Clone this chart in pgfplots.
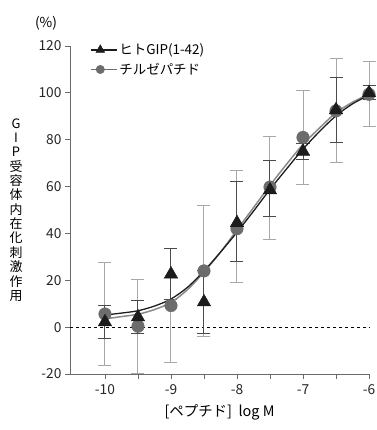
\documentclass[border=0pt]{standalone}
\usepackage{pgfplots}
\pgfplotsset{compat=1.18}
\usepackage{fontspec}
\setmainfont{Noto Sans CJK JP}
\definecolor{axisgray}{HTML}{6A6A6A}
\definecolor{trigray}{HTML}{1C1C1C}
\definecolor{circgray}{HTML}{6C6C6C}
\definecolor{ebdark}{HTML}{4A4A4A}
\definecolor{eblight}{HTML}{A8A8A8}
\definecolor{fitgray}{HTML}{8A8A8A}
\begin{document}
\begin{tikzpicture}
\useasboundingbox (-70bp,-56bp) rectangle (307bp,374bp);
\begin{axis}[
  at={(0,0)}, anchor=south west,
  scale only axis, width=299bp, height=328bp,
  xmin=-10.53, xmax=-6, ymin=-20, ymax=120,
  axis x line*=bottom, axis y line*=left,
  axis line style={axisgray, line width=0.8pt},
  xtick={-10,-9,-8,-7,-6},
  xticklabels={-10,-9,-8,-7,-6},
  minor xtick={-9.5,-8.5,-7.5,-6.5},
  ytick={-20,0,20,40,60,80,100,120},
  yticklabels={-20,0,20,40,60,80,100,120},
  tick align=outside,
  major tick length=5bp, minor tick length=5bp,
  tick style={axisgray, line width=0.8pt},
  every tick label/.append style={font=\fontsize{13.8}{15}\selectfont, text=black!85},
  xticklabel style={yshift=-2bp},
  clip=false,
  legend style={at={(0.06,1.02)}, anchor=north west, draw=none, fill=none,
    font=\fontsize{13.5}{15}\selectfont, row sep=3bp, inner xsep=2bp,
    legend cell align=left},
  legend image code/.code={%
    \path (0bp,0bp) -- (26bp,0bp);
    \draw[#1, mark=none] (0bp,0bp) -- (19bp,0bp);
    \draw[#1] plot coordinates {(9.5bp,0bp)};},
]
\addlegendimage{trigray, line width=1.3pt, mark=triangle*, mark size=5bp, mark options={fill=trigray, draw=trigray, line width=0.5pt}}
\addlegendentry{ヒトGIP(1-42)}
\addlegendimage{circgray, line width=1.3pt, mark=*, mark size=4.2bp, mark options={fill=circgray, draw=circgray, line width=0.5pt}}
\addlegendentry{チルゼパチド}

% zero line
\addplot[black, dashed, line width=0.6pt, forget plot] coordinates {(-10.53,0) (-6,0)};

% error bars: circles (light)
\addplot[draw=none, mark=none, forget plot,
  error bars/.cd, y dir=both, y explicit,
  error bar style={eblight, line width=1pt},
  error mark options={rotate=90, eblight, mark size=6.5bp, line width=1pt}]
  coordinates {
  (-10,5.6) +- (0,22)
  (-9.5,0.4) +- (0,20)
  (-9,9.2) +- (0,24.5)
  (-8.5,24) +- (0,28)
  (-8,43) +- (0,24)
  (-7.5,59.5) +- (0,22)
  (-7,81) +- (0,20)
  (-6.5,92.3) +- (0,22.2)
  (-6,99.4) +- (0,13.9)
  };
% error bars: triangles (dark)
\addplot[draw=none, mark=none, forget plot,
  error bars/.cd, y dir=both, y explicit,
  error bar style={ebdark, line width=1pt},
  error mark options={rotate=90, ebdark, mark size=6.5bp, line width=1pt}]
  coordinates {
  (-10,2.2) +- (0,7)
  (-9.5,4.3) +- (0,7)
  (-9,22.6) +- (0,11)
  (-8.5,10.7) +- (0,13.5)
  (-8,45) +- (0,17)
  (-7.5,59.2) +- (0,12)
  (-7,75) +- (0,3.5)
  (-6.5,92.7) +- (0,14)
  (-6,100) +- (0,3)
  };

% fitted curves
\addplot[fitgray, line width=1.5pt, smooth, forget plot] coordinates {
 (-10,3.5) (-9.75,4.5) (-9.5,5.5) (-9.25,7.5) (-9,10.5) (-8.75,16) (-8.5,23.5)
 (-8.25,32) (-8,41.5) (-7.75,51) (-7.5,60.5) (-7.25,69.5) (-7,78) (-6.75,85)
 (-6.5,91.5) (-6.25,96) (-6,99.5)};
\addplot[trigray, line width=1.3pt, smooth, forget plot] coordinates {
 (-10,5.2) (-9.75,6) (-9.5,7) (-9.25,9) (-9,12) (-8.75,17) (-8.5,24)
 (-8.25,32) (-8,40.5) (-7.75,49.5) (-7.5,58.8) (-7.25,67.5) (-7,76) (-6.75,83.5)
 (-6.5,90.2) (-6.25,95.3) (-6,99)};

% markers
\addplot[only marks, mark=*, mark size=6.3bp, mark options={fill=circgray, draw=circgray}, forget plot]
  coordinates {(-10,5.6) (-9.5,0.4) (-9,9.2) (-8.5,24) (-8,42) (-7.5,59.8) (-7,81) (-6.5,92.3) (-6,99.4)};
\addplot[only marks, mark=triangle*, mark size=7.8bp, mark options={fill=trigray, draw=trigray}, forget plot]
  coordinates {(-10,2.2) (-9.5,4.3) (-9,22.6) (-8.5,10.7) (-8,44.5) (-7.5,58.5) (-7,75) (-6.5,92.7) (-6,100)};

% texts
\node[font=\fontsize{13.8}{15}\selectfont, anchor=center] at ([xshift=-24bp, yshift=23bp]rel axis cs:0,1) {(\%)};
\node[font=\fontsize{13}{14.4}\selectfont, align=center, anchor=center, inner sep=0pt]
  at ([xshift=-54bp]rel axis cs:0,0.5)
  {G\\I\\P\\受\\容\\体\\内\\在\\化\\刺\\激\\作\\用};
\node[font=\fontsize{14.5}{16}\selectfont, anchor=center] at ([yshift=-38bp]rel axis cs:0.5,0) {[ペプチド]\ \ log M};
\end{axis}
\end{tikzpicture}
\end{document}
